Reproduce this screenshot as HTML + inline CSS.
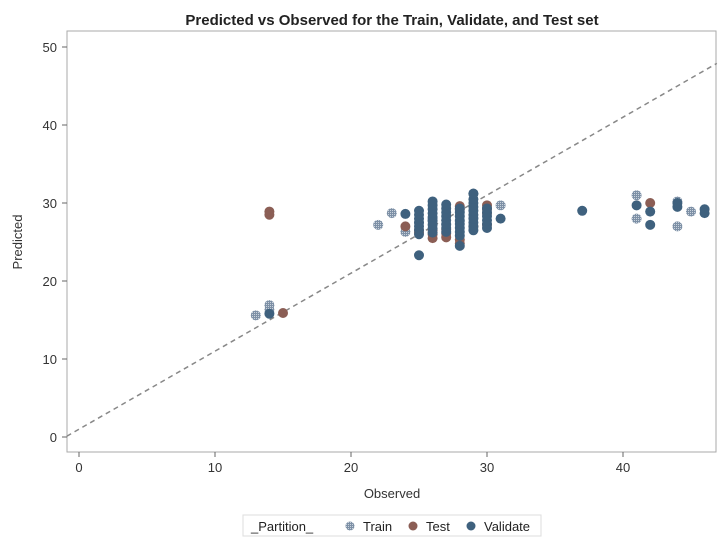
<!DOCTYPE html>
<html><head><meta charset="utf-8"><style>
body{margin:0;background:#fff;font-family:"Liberation Sans",Arial,sans-serif}
svg text{font-family:"Liberation Sans",Arial,sans-serif}
</style></head><body>
<svg id="chart" width="725" height="546">
<defs>
<pattern id="hatch" width="2" height="2" patternUnits="userSpaceOnUse"><rect width="2" height="2" fill="#7d90a6"/><rect width="1" height="1" fill="#c9d2dc"/></pattern>
</defs>
<text x="392" y="25" text-anchor="middle" font-size="15" font-weight="bold" fill="#222">Predicted vs Observed for the Train, Validate, and Test set</text>
<rect x="67" y="31" width="649" height="421" fill="none" stroke="#aaa"/>
<g id="axes"></g>
<g id="marks"></g>
<text x="392" y="498" text-anchor="middle" font-size="13" fill="#333">Observed</text>
<text transform="translate(22,242) rotate(-90)" text-anchor="middle" font-size="13" fill="#333">Predicted</text>
<g>
<rect x="243" y="515" width="298" height="21" fill="#fff" stroke="#ddd"/>
<text x="251" y="531" font-size="13" fill="#222">_Partition_</text>
<circle cx="350" cy="526" r="4.5" fill="url(#hatch)"/>
<text x="363" y="531" font-size="13" fill="#222">Train</text>
<circle cx="413" cy="526" r="4.5" fill="#8b5e55"/>
<text x="426" y="531" font-size="13" fill="#222">Test</text>
<circle cx="471" cy="526" r="4.5" fill="#3f617e"/>
<text x="484" y="531" font-size="13" fill="#222">Validate</text>
</g>
</svg>
<script>
const xTicks=[0,10,20,30,40];
const yTicks=[0,10,20,30,40,50];
const trainX=[13,14,14,22,23,24,31,41,41,44,45,44,25,26,27,28,29,30,26,28];
const trainY=[15.6,16.9,16.3,27.2,28.7,26.3,29.7,31,28,27,28.9,30.2,27.5,28,27.2,29,28.2,29.4,27.8,27.6];
const testX=[14,14,15,24,42,25,25,26,26,26,27,27,27,28,28,28,28,29,30,30,30,30];
const testY=[28.9,28.5,15.9,27,30,26.5,26.2,25.5,26,26.5,25.6,26.1,26.6,24.8,25.3,29.2,29.6,27,29.7,29.2,28.7,27.2];
const valX=[14,24,25,37,41,42,42,44,46,46,31,28,29,
 25,25,25,25,25,25,25,
 26,26,26,26,26,26,26,26,26,
 27,27,27,27,27,27,27,27,
 28,28,28,28,28,28,28,28,
 29,29,29,29,29,29,29,29,29,29,
 30,30,30,30,30,30,44];
const valY=[15.8,28.6,23.3,29,29.7,27.2,28.9,29.5,29.2,28.7,28,24.5,31.2,
 26,26.5,27,27.5,28,28.5,29,
 26.2,26.7,27.2,27.7,28.2,28.7,29.2,29.7,30.2,
 26.3,26.8,27.3,27.8,28.3,28.8,29.3,29.8,
 25.8,26.3,26.8,27.3,27.8,28.3,28.8,29.3,
 26.5,27,27.5,28,28.5,29,29.5,30,30.5,31.2,
 26.8,27.3,27.8,28.3,28.8,29.3,30];
const sx=v=>79+v*13.6, sy=v=>437-v*7.8;
const NS="http://www.w3.org/2000/svg";
const axes=document.getElementById('axes'), marks=document.getElementById('marks');
function mk(tag,attrs,parent){const e=document.createElementNS(NS,tag);for(const k in attrs)e.setAttribute(k,attrs[k]);parent.appendChild(e);return e;}
xTicks.forEach(t=>{
  const l=mk('line',{x1:sx(t),x2:sx(t),y1:452,y2:457,stroke:'#666'},axes);
  
  
  const tx=mk('text',{x:sx(t),y:472,'text-anchor':'middle','font-size':13,fill:'#333'},axes);tx.textContent=t;
  
  
});
yTicks.forEach(t=>{
  const l=mk('line',{x1:62,x2:67,y1:sy(t),y2:sy(t),stroke:'#666'},axes);
  
  
  const tx=mk('text',{x:57,y:sy(t)+5,'text-anchor':'end','font-size':13,fill:'#333'},axes);tx.textContent=t;
  
  
});
const ref=mk('line',{x1:sx(-0.9),y1:sy(0.1),x2:sx(46.9),y2:sy(47.9),stroke:'#888','stroke-width':1.5,'stroke-dasharray':'5,4'},marks);


function series(xs,ys,fill,name){
  xs.forEach((x,i)=>{
    const c=mk('circle',{cx:sx(x),cy:sy(ys[i]),r:5,fill:fill},marks);
    
    
  });
}
series(trainX,trainY,'url(#hatch)','train-point');
series(testX,testY,'#8b5e55','test-point');
series(valX,valY,'#3f617e','validate-point');
</script>
</body></html>
